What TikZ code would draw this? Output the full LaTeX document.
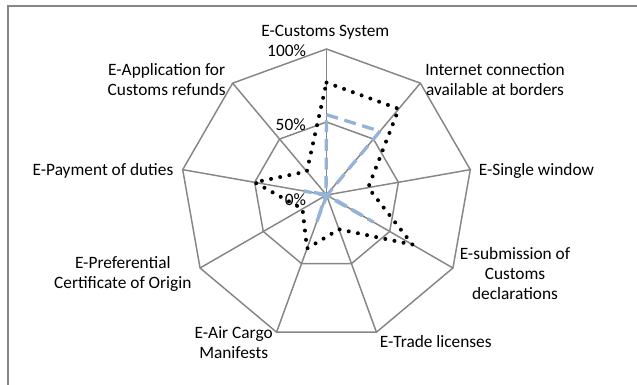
\documentclass[tikz,border=0pt]{standalone}
\usepackage{fontspec}
\setmainfont{Carlito}
\definecolor{gridgray}{HTML}{868686}
\definecolor{serblue}{HTML}{95B3D7}
\begin{document}
\begin{tikzpicture}[x=0.75pt,y=0.75pt,
  grid/.style={draw=gridgray,line width=1.1pt,line join=miter},
  lbl/.style={font=\fontsize{13}{15}\selectfont,inner sep=0pt,align=center,text=black},
  dotser/.style={draw=black,line width=3pt,line cap=round,dash pattern=on 0pt off 7pt},
  dashser/.style={draw=serblue,line width=2.5pt,dash pattern=on 9pt off 5pt}]
\useasboundingbox (0,0) rectangle (637,385);
% chart frame (cut at right and bottom)
\draw[gridgray,line width=0.8pt] (8,0) -- (8,379) -- (637,379);
\coordinate (O) at (326.5,190);
\foreach \i in {0,...,8}{
  \coordinate (V\i) at ([shift={({90-40*\i}:146)}]O);
  \coordinate (H\i) at ([shift={({90-40*\i}:73)}]O);
}
% grid
\draw[grid] (V0)--(V1)--(V2)--(V3)--(V4)--(V5)--(V6)--(V7)--(V8)--cycle;
\draw[grid] (H0)--(H1)--(H2)--(H3)--(H4)--(H5)--(H6)--(H7)--(H8)--cycle;
\foreach \i in {0,...,8}{ \draw[grid] (O) -- (V\i); }
% labels
\node[lbl] (l0) at (325.4,353) {E-Customs System};
\node[lbl] (l1) at (495,305.7) {Internet connection\\available at borders};
\node[lbl,anchor=west] (l2) at (478.5,214.3) {E-Single window};
\node[lbl] (l3) at (515,111.7) {E-submission of\\Customs\\declarations};
\node[lbl] (l4) at (435.8,43.3) {E-Trade licenses};
\node[lbl] (l5) at (233.7,42.7) {E-Air Cargo\\Manifests};
\node[lbl] (l6) at (122.8,111.2) {E-Preferential\\Certificate of Origin};
\node[lbl,anchor=east] (l7) at (173.6,214.3) {E-Payment of duties};
\node[lbl] (l8) at (166.7,305.7) {E-Application for\\Customs refunds};
\node[lbl] (p100) at (286.6,334) {100\%};
\node[lbl] (p50) at (290.7,260) {50\%};
\node[lbl] (p0) at (295.5,185.7) {0\%};
% data series
\def\dotvals{0.77,0.77,0.29,0.68,0.25,0.39,0.19,0.50,0.21}
\def\dashvals{0.55,0.57,0.005,0.37,0.005,0.20,0.005,0.16,0.005}
\foreach \v [count=\j from 0] in \dotvals{
  \coordinate (D\j) at ([shift={({90-40*\j}:{146*\v})}]O);
}
\foreach \v [count=\j from 0] in \dashvals{
  \coordinate (B\j) at ([shift={({90-40*\j}:{146*\v})}]O);
}
\draw[dashser] (B0)--(B1)--(B2)--(B3)--(B4)--(B5)--(B6)--(B7)--(B8)--cycle;
\draw[dotser] (D0)--(D1)--(D2)--(D3)--(D4)--(D5)--(D6)--(D7)--(D8)--cycle;
\end{tikzpicture}
\end{document}
